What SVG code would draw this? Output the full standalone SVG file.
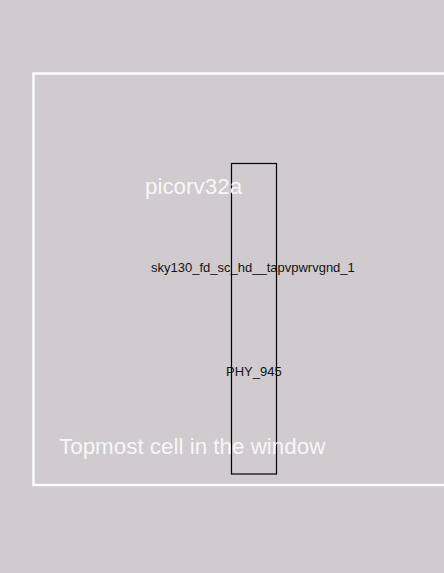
<svg xmlns="http://www.w3.org/2000/svg" width="444" height="573" viewBox="0 0 444 573">
<style>
.lbl{font-family:"Liberation Sans",Arial,sans-serif;fill:#141414;font-size:13px}
.big{font-family:"Liberation Sans",Arial,sans-serif;fill:#f7f7f7;font-size:22.4px}
</style>
<rect x="0" y="0" width="444" height="573" fill="#cfcbce"/>
<g id="window">
<rect x="33.5" y="73.5" width="420" height="411.5" fill="none" stroke="#ffffff" stroke-width="2.4"/>
</g>
<g id="cell">
<rect x="231.5" y="163.5" width="45" height="310.5" fill="none" stroke="#000000" stroke-width="1.2"/>
<text class="lbl" x="151" y="272">sky130_fd_sc_hd__tapvpwrvgnd_1</text>
<text class="lbl" x="226" y="376">PHY_945</text>
</g>
<g id="connectors"></g>
<g id="labels">
<text class="big" x="145" y="194">picorv32a</text>
<text class="big" x="59" y="454">Topmost cell in the window</text>
</g>
</svg>
